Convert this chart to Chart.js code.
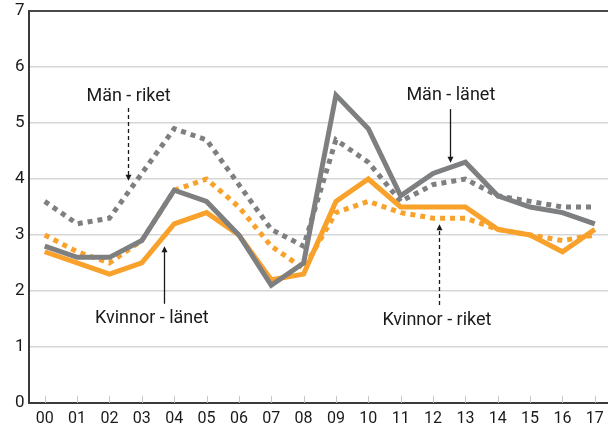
<!DOCTYPE html>
<html>
<head>
<meta charset="utf-8">
<script src="https://cdn.jsdelivr.net/npm/chart.js@4/dist/chart.umd.min.js"></script>
<style>
html, body { margin: 0; padding: 0; overflow: hidden; background: #fff; }
#wrap { position: absolute; left: 0; top: -3px; width: 612px; height: 441px; }
</style>
</head>
<body>
<div id="wrap"><canvas id="myChart" width="612" height="441"></canvas></div>
<script>
// år (2000-2017)
const years = ["00","01","02","03","04","05","06","07","08","09","10","11","12","13","14","15","16","17"]

const manLanet     = [2.8, 2.6, 2.6, 2.9, 3.8, 3.6, 3.0, 2.1, 2.5, 5.5, 4.9, 3.7, 4.1, 4.3, 3.7, 3.5, 3.4, 3.2]
const manRiket     = [3.6, 3.2, 3.3, 4.1, 4.9, 4.7, 3.9, 3.1, 2.8, 4.7, 4.3, 3.6, 3.9, 4.0, 3.7, 3.6, 3.5, 3.5]
const kvinnorLanet = [2.7, 2.5, 2.3, 2.5, 3.2, 3.4, 3.0, 2.2, 2.3, 3.6, 4.0, 3.5, 3.5, 3.5, 3.1, 3.0, 2.7, 3.1]
const kvinnorRiket = [3.0, 2.7, 2.5, 2.9, 3.8, 4.0, 3.5, 2.8, 2.4, 3.4, 3.6, 3.4, 3.3, 3.3, 3.1, 3.0, 2.9, 3.0]

const yTicks = [0, 1, 2, 3, 4, 5, 6, 7]

const grey = "#7e7f81"
const orange = "#f8a12b"

// etiketter med pilar (x = kategoriindex, y = värde)
const notes = [
    { text: "Män - riket",     tx: 2.59,  ty: 5.47, ax: 2.56,  from: 5.27, to: 3.97, dashed: true },
    { text: "Män - länet",     tx: 12.55, ty: 5.50, ax: 12.52, from: 5.25, to: 4.29, dashed: false },
    { text: "Kvinnor - länet", tx: 3.31,  ty: 1.50, ax: 3.68,  from: 1.77, to: 2.80, dashed: false },
    { text: "Kvinnor - riket", tx: 12.12, ty: 1.48, ax: 12.18, from: 1.75, to: 3.19, dashed: true }
]

const notePlugin = {
    id: "notes",
    afterDatasetsDraw(chart) {
        const {ctx, scales: {x, y}} = chart
        const x0 = x.getPixelForValue(0)
        const step = x.getPixelForValue(1) - x0
        const xp = v => x0 + v * step
        ctx.save()
        ctx.font = "18px Roboto"
        ctx.fillStyle = "#1a1a1a"
        ctx.textAlign = "center"
        ctx.textBaseline = "middle"
        notes.forEach(n => {
            ctx.fillText(n.text, xp(n.tx), y.getPixelForValue(n.ty))
            const ax = Math.round(xp(n.ax)) + 0.5
            const y1 = y.getPixelForValue(n.from)
            const y2 = y.getPixelForValue(n.to)
            const dir = y2 > y1 ? 1 : -1
            ctx.strokeStyle = "#1a1a1a"
            ctx.lineWidth = 1.3
            ctx.setLineDash(n.dashed ? [4, 3] : [])
            ctx.beginPath()
            ctx.moveTo(ax, y1)
            ctx.lineTo(ax, y2 - dir * 4)
            ctx.stroke()
            ctx.setLineDash([])
            ctx.beginPath()
            ctx.moveTo(ax, y2)
            ctx.lineTo(ax - 3, y2 - dir * 6)
            ctx.lineTo(ax + 3, y2 - dir * 6)
            ctx.closePath()
            ctx.fill()
        })
        ctx.restore()
    }
}

// små streck vid varje år, innanför x-axeln
const tickPlugin = {
    id: "xticks",
    beforeDatasetsDraw(chart) {
        const {ctx, scales: {x, y}} = chart
        const base = y.getPixelForValue(0)
        ctx.save()
        ctx.strokeStyle = "#c8c8c8"
        ctx.lineWidth = 1
        x.ticks.forEach((t, i) => {
            const px = Math.round(x.getPixelForTick(i)) + 0.5
            ctx.beginPath()
            ctx.moveTo(px, base)
            ctx.lineTo(px, base - 7)
            ctx.stroke()
        })
        ctx.restore()
    }
}

function lineSet(label, data, color, dotted, order) {
    return {
        label: label,
        data: data,
        borderColor: color,
        backgroundColor: color,
        borderWidth: 5,
        borderDash: dotted ? [5, 5] : [],
        borderCapStyle: "butt",
        borderJoinStyle: "miter",
        pointRadius: 0,
        tension: 0,
        fill: false,
        order: order
    }
}

new Chart("myChart", {
    type: "line",
    data: {
        labels: years,
        datasets: [
            lineSet("Män - länet", manLanet, grey, false, 1),
            lineSet("Kvinnor - länet", kvinnorLanet, orange, false, 2),
            lineSet("Män - riket", manRiket, grey, true, 3),
            lineSet("Kvinnor - riket", kvinnorRiket, orange, true, 4)
        ]
    },
    options: {
        responsive: false,
        animation: false,
        layout: { padding: { left: 11, top: 3, right: 1, bottom: 2 } },
        plugins: {
            legend: { display: false },
            tooltip: { enabled: false }
        },
        scales: {
            x: {
                offset: true,
                grid: { display: false, drawTicks: false },
                border: { display: true, color: "#3a3a3a", width: 2 },
                ticks: {
                    color: "#1a1a1a",
                    padding: 7,
                    maxRotation: 0,
                    autoSkip: false,
                    font: { family: "Roboto", size: 16 }
                }
            },
            y: {
                min: 0,
                max: 7,
                afterBuildTicks: axis => { axis.ticks = yTicks.map(v => ({ value: v })) },
                grid: {
                    drawTicks: false,
                    color: c => c.tick && c.tick.value === 7 ? "#4a4a4a" : "#d6d6d6",
                    lineWidth: c => c.tick && c.tick.value === 7 ? 2 : 1.5
                },
                border: { display: true, color: "#3a3a3a", width: 2 },
                ticks: {
                    color: "#1a1a1a",
                    padding: 4,
                    font: { family: "Roboto", size: 17 }
                }
            }
        }
    },
    plugins: [tickPlugin, notePlugin]
})
</script>
</body>
</html>
